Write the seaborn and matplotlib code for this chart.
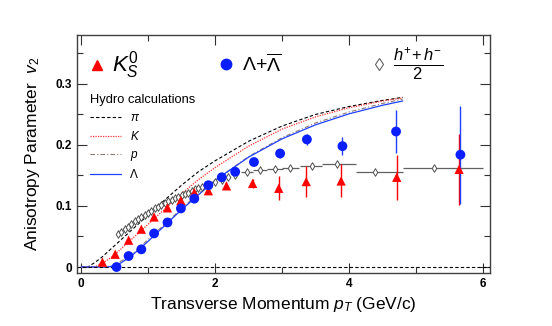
import numpy as np
import pandas as pd
import seaborn as sns
import matplotlib.pyplot as plt
from matplotlib.ticker import MultipleLocator

# measured v2 points
k0s_pt = [0.32, 0.51, 0.71, 0.90, 1.09, 1.29, 1.49, 1.69, 1.90, 2.17, 2.56, 2.95, 3.36, 3.88, 4.71, 5.64]
k0s_v2 = [0.008, 0.021, 0.044, 0.062, 0.082, 0.097, 0.109, 0.122, 0.125, 0.133, 0.137, 0.129, 0.140, 0.141, 0.147, 0.160]
k0s_err = [0.002, 0.002, 0.003, 0.003, 0.003, 0.003, 0.004, 0.004, 0.005, 0.006, 0.008, 0.020, 0.025, 0.027, 0.037, 0.058]

lam_pt = [0.53, 0.71, 0.90, 1.09, 1.29, 1.49, 1.69, 1.90, 2.10, 2.30, 2.58, 2.97, 3.37, 3.90, 4.70, 5.66]
lam_v2 = [0.000, 0.018, 0.029, 0.055, 0.073, 0.096, 0.112, 0.134, 0.147, 0.156, 0.172, 0.186, 0.209, 0.198, 0.222, 0.184]
lam_err = [0.003, 0.003, 0.004, 0.003, 0.003, 0.003, 0.003, 0.003, 0.004, 0.004, 0.005, 0.007, 0.009, 0.015, 0.035, 0.080]

h_pt = [0.55, 0.60, 0.65, 0.70, 0.75, 0.80, 0.85, 0.90, 0.95, 1.00, 1.05, 1.10, 1.15, 1.20,
        1.25, 1.30, 1.35, 1.40, 1.45, 1.50, 1.55, 1.60, 1.65, 1.70, 1.75, 1.80, 1.90, 2.00,
        2.10, 2.20, 2.30, 2.48, 2.67, 2.90, 3.12, 3.44, 3.82, 4.39, 5.27]
h_v2 = [0.054, 0.058, 0.062, 0.066, 0.071, 0.075, 0.078, 0.082, 0.085, 0.089, 0.092, 0.096, 0.099, 0.102,
        0.105, 0.108, 0.110, 0.113, 0.115, 0.118, 0.120, 0.122, 0.125, 0.127, 0.129, 0.131, 0.135, 0.139,
        0.143, 0.147, 0.150, 0.155, 0.159, 0.161, 0.163, 0.166, 0.169, 0.155, 0.163]
h_xlo = [0.0] * 31 + [0.09, 0.10, 0.12, 0.12, 0.17, 0.22, 0.29, 0.47]
h_xhi = [0.0] * 31 + [0.09, 0.10, 0.12, 0.13, 0.16, 0.28, 0.41, 0.73]

# hydro calculations
hydro_pt = [0.0, 0.1, 0.2, 0.3, 0.4, 0.5, 0.6, 0.75, 1.0, 1.25, 1.5, 1.75, 2.0, 2.5, 3.0, 3.5, 4.0, 4.5, 4.8]
pi_v2 = [0.0, 0.0, 0.007, 0.015, 0.025, 0.035, 0.045, 0.060, 0.085, 0.110, 0.134, 0.156, 0.174, 0.206, 0.231, 0.250, 0.263, 0.273, 0.278]
k_v2 = [0.0, 0.0, 0.0, 0.005, 0.012, 0.020, 0.030, 0.045, 0.070, 0.095, 0.120, 0.143, 0.163, 0.198, 0.226, 0.246, 0.261, 0.272, 0.277]
p_v2 = [0.0, 0.0, 0.0, 0.0, 0.0, 0.003, 0.010, 0.020, 0.045, 0.070, 0.096, 0.120, 0.142, 0.181, 0.212, 0.236, 0.254, 0.268, 0.275]
lamh_v2 = [0.0, 0.0, 0.0, 0.0, 0.0, 0.002, 0.007, 0.018, 0.042, 0.068, 0.094, 0.118, 0.142, 0.180, 0.210, 0.233, 0.251, 0.265, 0.272]

sns.set_style("ticks")
plt.rcParams["font.family"] = ["Liberation Sans", "DejaVu Sans"]
plt.rcParams["mathtext.fontset"] = "custom"
plt.rcParams["mathtext.rm"] = "Liberation Sans"
plt.rcParams["mathtext.it"] = "Liberation Sans:italic"
plt.rcParams["text.color"] = "black"
plt.rcParams["axes.labelcolor"] = "black"
plt.rcParams["xtick.color"] = "black"
plt.rcParams["ytick.color"] = "black"

fig = plt.figure(figsize=(5.52, 3.26), dpi=100)
ax = fig.add_axes([0.1395, 0.1635, 0.748, 0.729])

hydro = pd.DataFrame({"pt": hydro_pt, "pi": pi_v2, "K": k_v2, "p": p_v2, "Lambda": lamh_v2})
styles = [("pi", "black", (0, (3, 2)), 0.8, r"$\pi$"),
          ("K", "#ff3030", (0, (1, 1)), 0.9, r"$K$"),
          ("p", "#8a7a70", (0, (4, 2, 1, 2)), 0.8, r"$p$"),
          ("Lambda", "#2040ff", "-", 0.9, "Λ")]
handles = []
for col, c, ls, lw, lab in styles:
    sns.lineplot(data=hydro, x="pt", y=col, ax=ax, color=c, linestyle=ls, linewidth=lw, sort=False)
    handles.append(ax.lines[-1])

ax.axhline(0, color="black", linestyle=(0, (3, 2)), linewidth=0.8)

# h+ + h-
ax.errorbar(h_pt, h_v2, xerr=[h_xlo, h_xhi], fmt="none", ecolor="#606060", elinewidth=0.9)
sns.scatterplot(x=h_pt, y=h_v2, ax=ax, marker="d", s=15, facecolor="white",
                edgecolor="#505050", linewidth=0.7, zorder=3)
# K0s
ax.errorbar(k0s_pt, k0s_v2, yerr=k0s_err, fmt="none", ecolor="red", elinewidth=1.0)
sns.scatterplot(x=k0s_pt, y=k0s_v2, ax=ax, marker="^", s=45, color="red", edgecolor="none", zorder=4)
# Lambda
ax.errorbar(lam_pt, lam_v2, yerr=lam_err, fmt="none", ecolor="#2040ff", elinewidth=1.0)
sns.scatterplot(x=lam_pt, y=lam_v2, ax=ax, marker="o", s=50, color="#0a1eff", edgecolor="none", zorder=4)

ax.set_xlim(-0.06, 6.1)
ax.set_ylim(-0.0093, 0.38)
ax.xaxis.set_major_locator(MultipleLocator(2))
ax.xaxis.set_minor_locator(MultipleLocator(1))
ax.yaxis.set_major_locator(MultipleLocator(0.1))
ax.yaxis.set_minor_locator(MultipleLocator(0.05))
ax.tick_params(which="both", direction="in", top=True, right=True, width=0.8, color="#303030")
ax.tick_params(which="major", length=7, labelsize=8.5)
ax.tick_params(which="minor", length=4)
ax.set_xticks([0, 2, 4, 6])
ax.set_xticklabels(["0", "2", "4", "6"], fontweight="bold")
ax.set_yticks([0, 0.1, 0.2, 0.3])
ax.set_yticklabels(["0", "0.1", "0.2", "0.3"], fontweight="bold")
for s in ax.spines.values():
    s.set_color("#404040")
    s.set_linewidth(1.0)

ax.set_xlabel(r"Transverse Momentum $p_T$ (GeV/c)", fontsize=12.5, labelpad=4)
ax.set_ylabel(r"Anisotropy Parameter  $v_2$", fontsize=12.5, labelpad=10)

leg = ax.legend(handles=handles, labels=[s[4] for s in styles], title="Hydro calculations",
                loc="upper left", bbox_to_anchor=(0.02, 0.77), frameon=False, fontsize=8.5,
                title_fontsize=9.3, handlelength=2.6, handletextpad=0.8, labelspacing=0.5,
                borderaxespad=0)
leg._legend_box.align = "left"

# marker legend
ax.plot([0.048], [0.875], transform=ax.transAxes, marker="^", color="red", ms=7.5, ls="none")
ax.text(0.085, 0.875, r"$K_S^0$", transform=ax.transAxes, fontsize=16, va="center")
ax.plot([0.36], [0.878], transform=ax.transAxes, marker="o", color="#0a1eff", ms=7.5, ls="none")
ax.text(0.40, 0.878, r"$\Lambda$+$\overline{\Lambda}$", transform=ax.transAxes, fontsize=14, va="center")
ax.plot([0.731], [0.878], transform=ax.transAxes, marker="d", mfc="white", mec="#505050",
        mew=0.7, ms=6.5, ls="none")
ax.text(0.825, 0.878, r"$\frac{h^{+}\!+h^{-}}{2}$", transform=ax.transAxes, fontsize=17,
        va="center", ha="center")

fig.savefig("out.png", dpi=100)
